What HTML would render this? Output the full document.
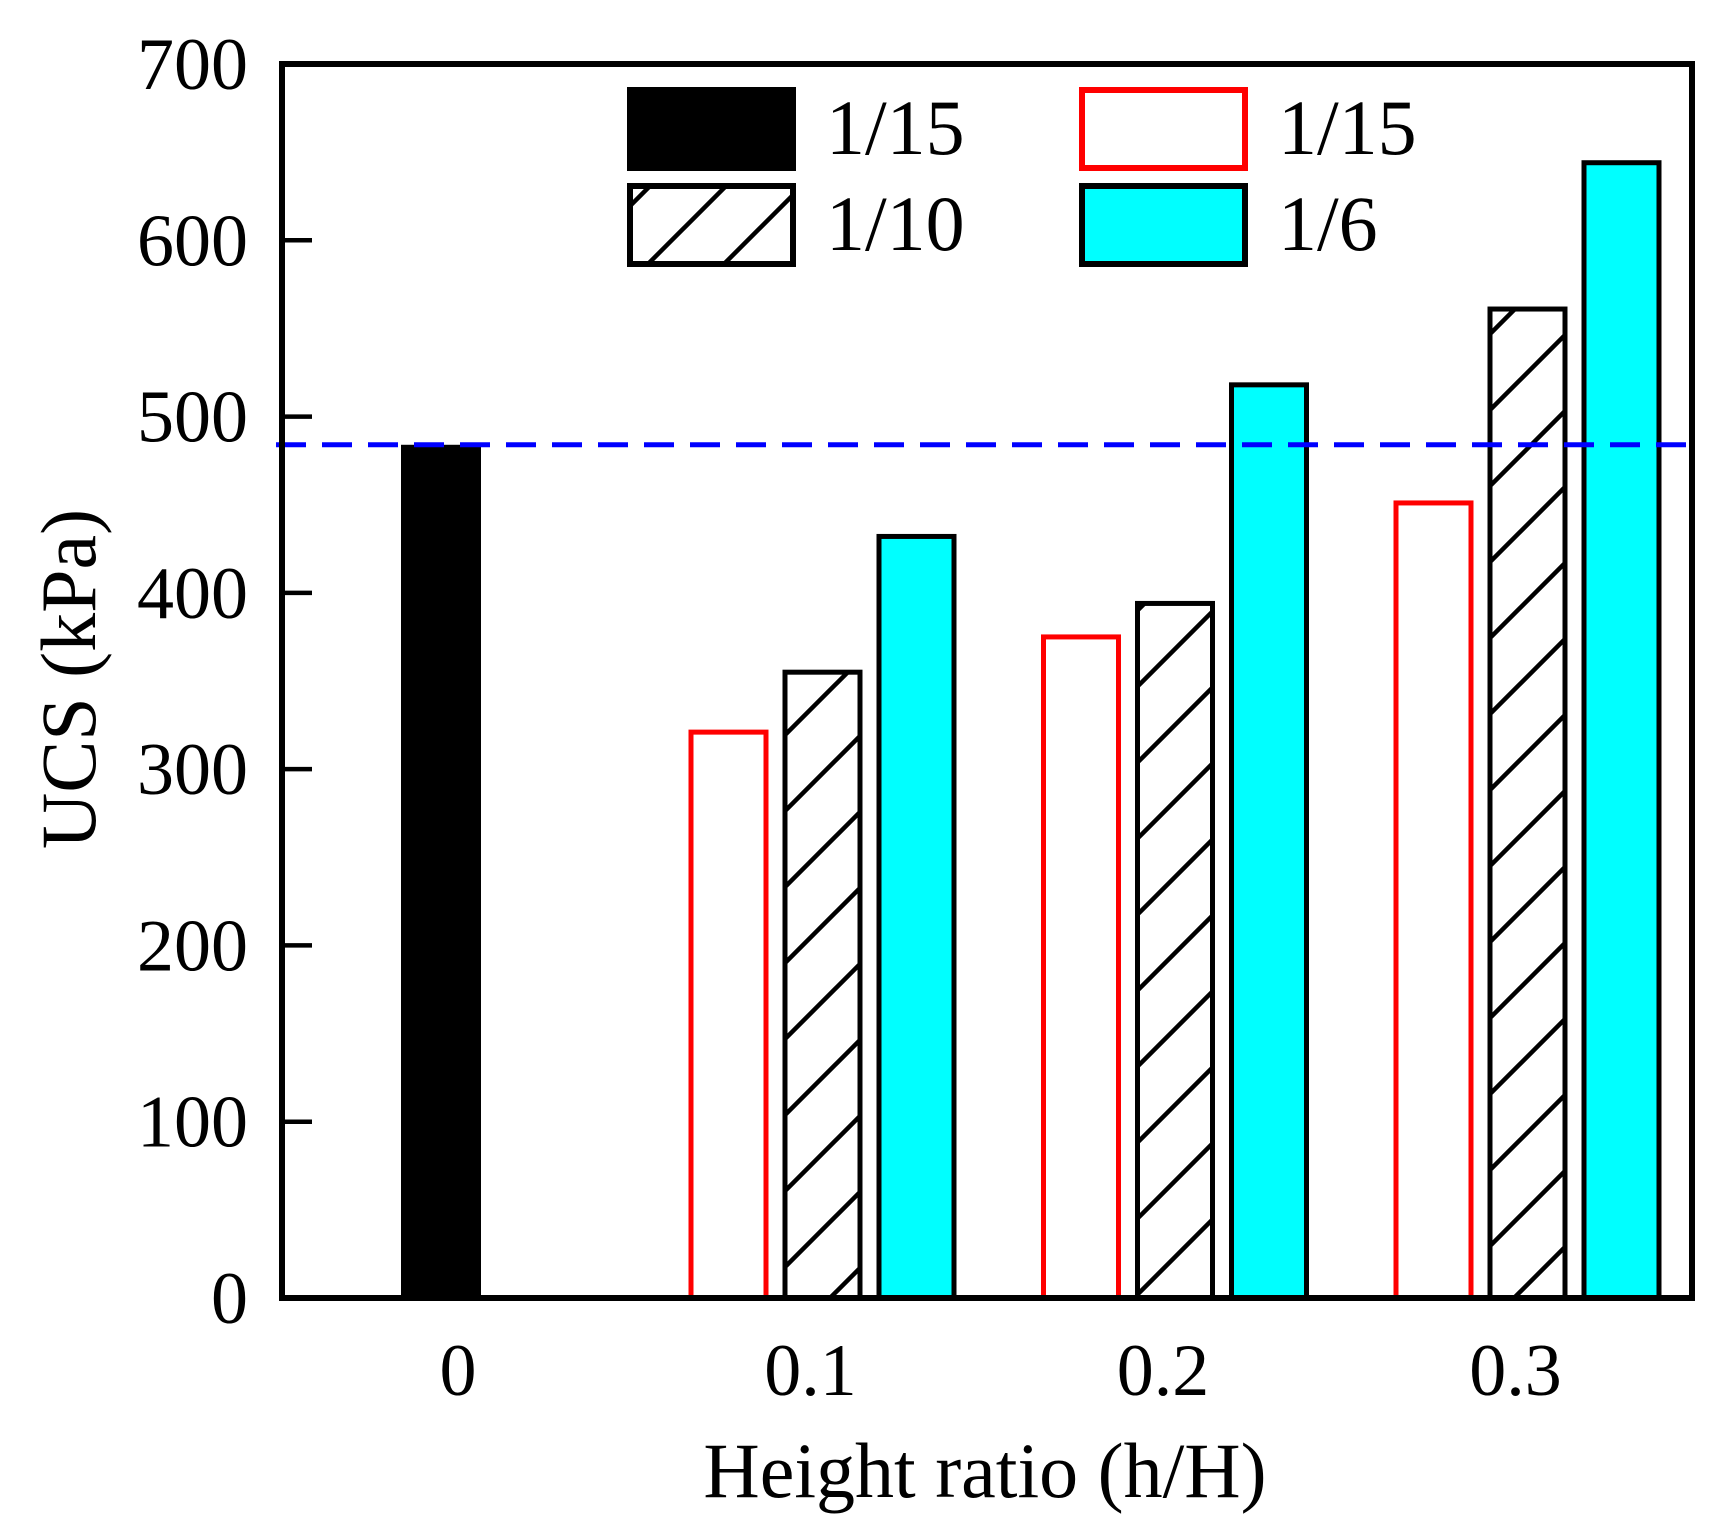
<!DOCTYPE html>
<html><head><meta charset="utf-8"><style>
html,body{margin:0;padding:0;background:#fff;}
svg{display:block;font-family:"Liberation Serif",serif;}
</style></head><body>
<svg id="chart" width="1714" height="1538" viewBox="0 0 1714 1538" xmlns="http://www.w3.org/2000/svg">
<defs>
<pattern id="hatch" patternUnits="userSpaceOnUse" width="76" height="76">
<path d="M-19,95 L95,-19 M-57,57 L57,-57 M19,133 L133,19" stroke="#000" stroke-width="4.5"/>
</pattern>
</defs>
<g id="marks"></g>
<g id="axes"></g>
<g id="legend"></g>
</svg>
<script>
const categories = [0.1, 0.2, 0.3];
const seriesNames = ["1/15", "1/10", "1/6"];
const baseValue = 484;
const red115 = [321, 375, 451];
const hatch110 = [355, 394, 561];
const cyan16 = [432, 518, 644];
const yTicks = [0, 100, 200, 300, 400, 500, 600, 700];
const xTickLabels = ["0", "0.1", "0.2", "0.3"];
const xTickValues = [0, 0.1, 0.2, 0.3];

const NS = "http://www.w3.org/2000/svg";
const L = 282, R = 1692, T = 64, B = 1298;
function y(v){ return B - (v/700)*(B-T); }
function x(v){ return 458 + v*3525; }
const BW = 80;
function mk(tag, attrs, parent){
  const e = document.createElementNS(NS, tag);
  for (const k in attrs) e.setAttribute(k, attrs[k]);
  parent.appendChild(e); return e;
}
const marks = document.getElementById('marks');
const axes = document.getElementById('axes');
const legend = document.getElementById('legend');

let b0 = mk('rect', {x: x(0)-17-BW/2, y: y(baseValue), width: BW, height: B-y(baseValue), fill:'#000'}, marks);



const series = [
  {vals: red115, off: -82, fill:'#fff', stroke:'#ff0000', name:'red-1-15'},
  {vals: hatch110, off: 12, fill:'url(#hatch)', stroke:'#000', name:'hatch-1-10'},
  {vals: cyan16, off: 106, fill:'#00ffff', stroke:'#000', name:'cyan-1-6'}
];
series.forEach(s => {
  categories.forEach((c, i) => {
    const cx = x(c) + s.off;
    const top = y(s.vals[i]);
    if (s.fill.startsWith('url')) {
      const bg = mk('rect', {x: cx-BW/2, y: top, width: BW, height: B-top, fill:'#fff'}, marks);
      
      
    }
    const r = mk('rect', {x: cx-BW/2+2.5, y: top, width: BW-5, height: B-top, fill: s.fill, stroke: s.stroke, 'stroke-width': 5}, marks);
    
    
  });
});

const dl = mk('line', {x1: L-6, x2: R+10, y1: y(baseValue), y2: y(baseValue), stroke:'#0000ff', 'stroke-width': 5, 'stroke-dasharray':'30 16'}, marks);



const fr = mk('rect', {x: L, y: T, width: R-L, height: B-T, fill:'none', stroke:'#000', 'stroke-width': 6}, axes);



yTicks.forEach(v => {
  const t = mk('line', {x1: L, x2: L+30, y1: y(v), y2: y(v), stroke:'#000', 'stroke-width': 4.5}, axes);
  
  
  const tx = mk('text', {x: 248, y: y(v)+25, 'text-anchor':'end', 'font-size': 74}, axes);
  tx.textContent = v;
  
  
});
xTickValues.forEach((v, i) => {
  const tx = mk('text', {x: x(v), y: 1395, 'text-anchor':'middle', 'font-size': 74}, axes);
  tx.textContent = xTickLabels[i];
  
  
});
const xt = mk('text', {x: 985, y: 1497, 'text-anchor':'middle', 'font-size': 78}, axes);
xt.textContent = 'Height ratio (h/H)';


const yt = mk('text', {x: 0, y: 0, 'text-anchor':'middle', 'font-size': 78, transform:'translate(95,679) rotate(-90)'}, axes);
yt.textContent = 'UCS (kPa)';



const legItems = [
  {x: 627, y: 88, fill:'#000', stroke:'#000', label:'1/15', name:'legend-black-1-15'},
  {x: 1079, y: 88, fill:'#fff', stroke:'#ff0000', label:'1/15', name:'legend-red-1-15'},
  {x: 627, y: 184, fill:'url(#hatch)', stroke:'#000', label:'1/10', name:'legend-hatch-1-10'},
  {x: 1079, y: 184, fill:'#00ffff', stroke:'#000', label:'1/6', name:'legend-cyan-1-6'}
];
legItems.forEach(it => {
  const g = mk('g', {}, legend);
  
  
  if (it.fill.startsWith('url')) mk('rect', {x: it.x, y: it.y, width: 168, height: 80, fill:'#fff'}, g);
  mk('rect', {x: it.x+3, y: it.y+2, width: 163, height: 78, fill: it.fill, stroke: it.stroke, 'stroke-width': 6}, g);
  const t = mk('text', {x: it.x+199, y: it.y+66, 'font-size': 78}, g);
  t.textContent = it.label;
});
</script>
</body></html>
